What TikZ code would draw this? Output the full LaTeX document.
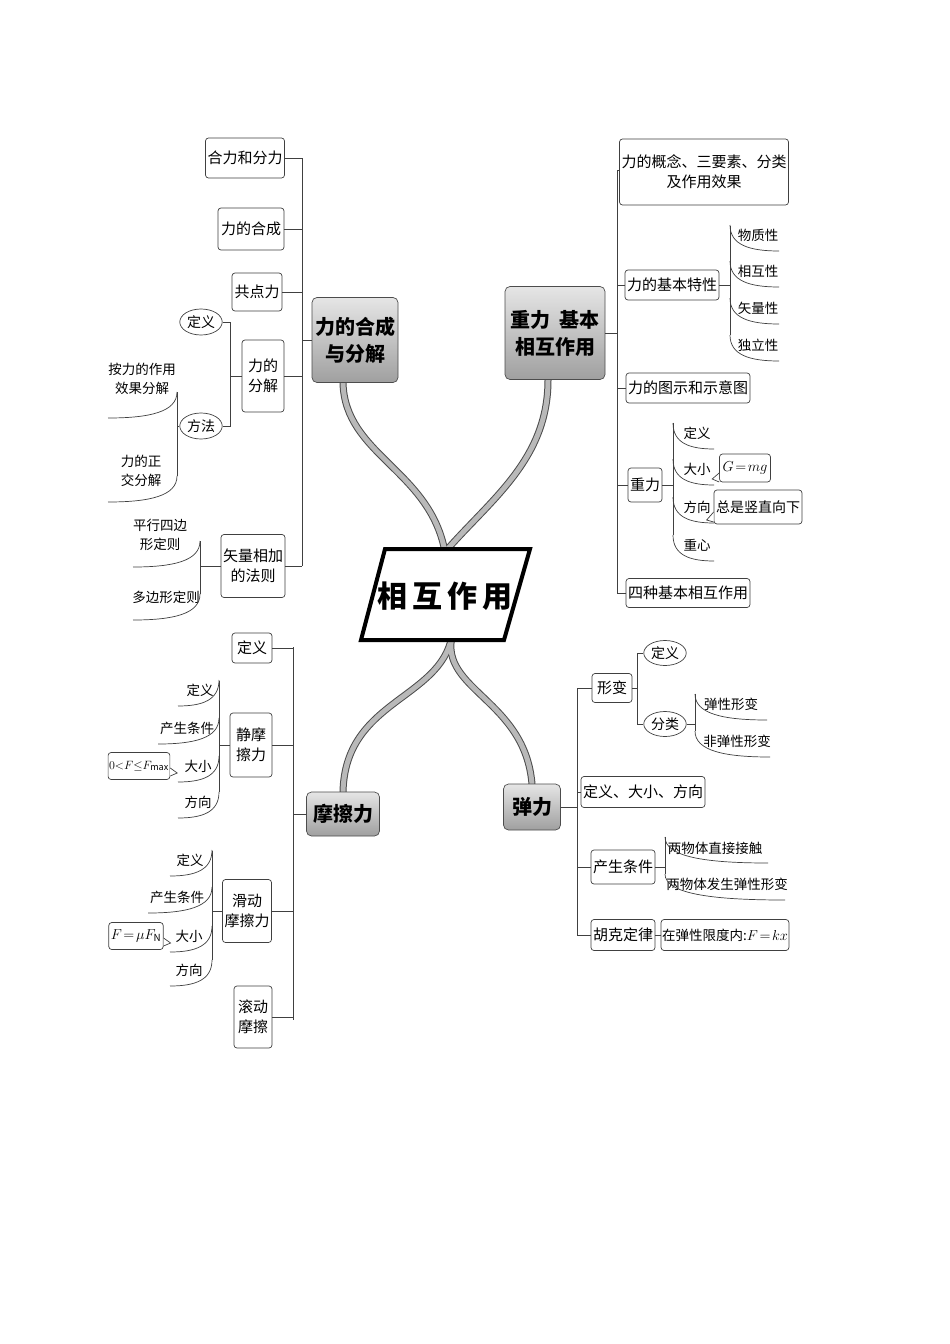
\documentclass[tikz,border=0pt]{standalone}
\usepackage{fontspec}
\setmainfont{Noto Sans CJK SC}
\usetikzlibrary{shapes.geometric}
\begin{document}
\begin{tikzpicture}[x=1pt,y=-1pt,
  ln/.style={draw=black!75,line width=0.7pt},
  box/.style={draw=black!75,line width=0.7pt,rounded corners=3pt,inner sep=2pt,fill=white,align=center,font=\fontsize{15}{20}\selectfont},
  mainn/.style={draw=black!70,line width=0.7pt,rounded corners=5pt,top color=gray!20,bottom color=gray!75,align=center,inner sep=3pt,font=\fontsize{20}{27}\selectfont\bfseries},
  ell/.style={ellipse,draw=black!75,line width=0.7pt,inner sep=1pt,minimum width=38pt,minimum height=26pt,font=\fontsize{14}{15}\selectfont},
  lab/.style={inner sep=0pt,align=center,font=\fontsize{13.5}{19}\selectfont},
  br/.style={line width=5pt,draw=gray!55,line cap=round},
  bro/.style={line width=7pt,draw=black!70,line cap=round}]
\useasboundingbox (0,0) rectangle (950,1344);
\fill[white] (0,0) rectangle (950,1344);
\newcommand{\ulL}[3]{\draw[ln] (#1,#2) .. controls ({#1+0.6*(#3-#1)},#2) and (#3,{#2-6}) .. (#3,{#2-26});}
\newcommand{\ulR}[3]{\draw[ln] (#1,{#2-26}) .. controls (#1,{#2-6}) and ({#1+0.4*(#3-#1)},#2) .. (#3,#2);}
% ---------- branches ----------
\coordinate (ct) at (445,552); \coordinate (cb) at (452,636);
\coordinate (b1) at (343,383); \coordinate (b2) at (548,380);
\coordinate (b3) at (343,792); \coordinate (b4) at (532,784);
\foreach \s in {bro,br}{
 \draw[\s] (ct) .. controls (430,470) and (345,455) .. (b1);
 \draw[\s] (ct) .. controls (490,500) and (548,460) .. (b2);
 \draw[\s] (cb) .. controls (440,700) and (345,700) .. (b3);
 \draw[\s] (cb) .. controls (440,690) and (525,700) .. (b4);
}
% ---------- centre ----------
\draw[line width=4pt,fill=white] (385,549) -- (530,549) -- (504,640) -- (361,640) -- cycle;
\node[font=\fontsize{30}{34}\selectfont\bfseries] (c) at (445,596) {相\,互\,作\,用};
% ---------- main nodes ----------
\node[mainn,minimum width=84pt,minimum height=85pt] (m1) at (355,340) {力的合成\\与分解};
\node[mainn,minimum width=100pt,minimum height=93pt] (m2) at (555,333) {重力\ \ 基本\\相互作用};
\node[mainn,minimum width=73pt,minimum height=44pt] (m3) at (343,814) {摩擦力};
\node[mainn,minimum width=57pt,minimum height=46pt] (m4) at (532,807) {弹力};
% ================= top-left =================
\coordinate (t1a) at (302,158); \coordinate (t1b) at (302,566);
\draw[ln] (t1a) -- (t1b); \draw[ln] (m1.west) -- (m1.west -| t1a);
\node[box,minimum width=77pt,minimum height=40pt] (a1) at (245,158) {合力和分力};
\node[box,minimum width=66pt,minimum height=42pt] (a2) at (251,229) {力的合成};
\node[box,minimum width=50pt,minimum height=38pt] (a3) at (257,292) {共点力};
\node[box,minimum width=42pt,minimum height=72pt] (a4) at (263,376) {力的\\分解};
\node[box,minimum width=62pt,minimum height=63pt] (a5) at (253,566) {矢量相加\\的法则};
\foreach \n in {a1,a2,a3,a4,a5}{\draw[ln] (\n.east) -- (\n.east -| t1a);}
% 力的分解
\node[ell] (e1) at (201,322) {定义};
\node[ell] (e2) at (201,426) {方法};
\coordinate (k1) at (230,322); \coordinate (k2) at (230,426);
\draw[ln] (e1.east) -- (k1) -- (k2) -- (e2.east);
\draw[ln] (a4.west) -- (a4.west -| k1);
% 方法
\node[lab] at (142,379) {按力的作用\\效果分解};
\node[lab] at (141,471) {力的正\\交分解};
\ulL{108}{418}{177} \ulL{108}{502}{177}
\draw[ln] (177,392) -- (177,476);
\draw[ln] (e2.west) -- (177,426);
% 矢量相加
\node[lab] at (160,535) {平行四边\\形定则};
\node[lab] at (166,597) {多边形定则};
\ulL{133}{567}{200} \ulL{133}{620}{200}
\draw[ln] (200,541) -- (200,594);
\draw[ln] (a5.west) -- (200,566);
% ================= top-right =================
\coordinate (t2a) at (617,170); \coordinate (t2b) at (617,593);
\draw[ln] (t2a) -- (t2b); \draw[ln] (m2.east) -- (m2.east -| t2a);
\node[box,minimum width=153pt,minimum height=66pt] (r1) at (704,172) {力的概念、三要素、分类\\及作用效果};
\node[box,minimum width=89pt,minimum height=30pt] (r2) at (672,285) {力的基本特性};
\node[box,minimum width=119pt,minimum height=30pt] (r3) at (688,388) {力的图示和示意图};
\node[box,minimum width=33pt,minimum height=34pt] (r4) at (645,485) {重力};
\node[box,minimum width=119pt,minimum height=29pt] (r5) at (688,593) {四种基本相互作用};
\foreach \n in {r2,r3,r4,r5}{\draw[ln] (\n.west) -- (\n.west -| t2a);}
\draw[ln] (r1.west |- t2a) -- (t2a);
% 特性
\foreach \t/\y in {物质性/235,相互性/271,矢量性/308,独立性/345}{
  \node[lab] at (758,\y) {\t}; \ulR{730}{\y+16}{779}}
\draw[ln] (730,226) -- (730,335);
\draw[ln] (r2.east) -- (730,285);
% 重力
\foreach \t/\y in {定义/433,大小/469,方向/507,重心/545}{
  \node[lab] at (697,\y) {\t}; \ulR{673}{\y+16}{714}}
\draw[ln] (673,423) -- (673,535);
\draw[ln] (r4.east) -- (673,485);
\node[box,minimum width=51pt,minimum height=28pt,font=\fontsize{14}{15}\selectfont] (g1) at (745,468) {$G\!=\!mg$};
\node[box,minimum width=76pt,minimum height=34pt,font=\fontsize{14}{15}\selectfont] (g2) at (758,507) {总是竖直向下};
\draw[ln,fill=white] ([yshift=-5]g1.west) -- ++(-7,6) -- ++(7,3);
\draw[ln,fill=white] ([yshift=-5]g2.west) -- ++(-7,8) -- ++(7,2);
% ================= bottom-left =================
\coordinate (t3a) at (293,647); \coordinate (t3b) at (293,1020);
\draw[ln] (t3a) -- (t3b); \draw[ln] (m3.west) -- (m3.west -| t3a);
\node[box,minimum width=40pt,minimum height=30pt] (f1) at (252,648) {定义};
\node[box,minimum width=42pt,minimum height=64pt] (f2) at (251,745) {静摩\\擦力};
\node[box,minimum width=49pt,minimum height=63pt] (f3) at (247,911) {滑动\\摩擦力};
\node[box,minimum width=38pt,minimum height=62pt] (f4) at (253,1017) {滚动\\摩擦};
\foreach \n in {f1,f2,f3,f4}{\draw[ln] (\n.east) -- (\n.east -| t3a);}
% 静摩擦力
\foreach \t/\x/\y/\l in {定义/200/690/178,产生条件/187/728/158,大小/198/766/178,方向/198/802/178}{
  \node[lab] at (\x,\y) {\t}; \ulL{\l}{\y+16}{219}}
\draw[ln] (219,681) -- (219,792);
\draw[ln] (f2.west) -- (219,745);
\node[box,minimum width=55pt,minimum height=27pt,inner sep=1pt,font=\fontsize{13}{14}\selectfont] (q1) at (139,766) {$0{<}F{\leq}F_{\max}$};
\draw[ln,fill=white] ([yshift=-2]q1.east) -- ++(7,5) -- ++(-7,3);
% 滑动摩擦力
\foreach \t/\x/\y/\l in {定义/190/860/170,产生条件/177/897/148,大小/189/936/170,方向/189/970/170}{
  \node[lab] at (\x,\y) {\t}; \ulL{\l}{\y+16}{212}}
\draw[ln] (212,851) -- (212,960);
\draw[ln] (f3.west) -- (212,911);
\node[box,minimum width=53pt,minimum height=27pt,font=\fontsize{14}{15}\selectfont] (q2) at (136,936) {$F\!=\!\mu F_{\mathrm N}$};
\draw[ln,fill=white] ([yshift=-2]q2.east) -- ++(7,5) -- ++(-7,3);
% ================= bottom-right =================
\coordinate (t4a) at (577,688); \coordinate (t4b) at (577,935);
\draw[ln] (t4a) -- (t4b); \draw[ln] (m4.east) -- (m4.east -| t4a);
\node[box,minimum width=40pt,minimum height=29pt] (d1) at (612,688) {形变};
\node[box,minimum width=102pt,minimum height=31pt] (d2) at (643,792) {定义、大小、方向};
\node[box,minimum width=63pt,minimum height=34pt] (d3) at (623,867) {产生条件};
\node[box,minimum width=63pt,minimum height=31pt] (d4) at (623,935) {胡克定律};
\foreach \n in {d1,d2,d3,d4}{\draw[ln] (\n.west) -- (\n.west -| t4a);}
% 形变
\node[ell,minimum width=34pt,minimum height=25pt] (e3) at (665,653) {定义};
\node[ell,minimum width=34pt,minimum height=25pt] (e4) at (665,724) {分类};
\draw[ln] (e3.west) -- (637,653) -- (637,724) -- (e4.west);
\draw[ln] (d1.east) -- (637,688);
\node[lab] at (731,704) {弹性形变}; \ulR{695}{720}{767}
\node[lab] at (737,741) {非弹性形变}; \ulR{695}{757}{770}
\draw[ln] (695,694) -- (695,731);
\draw[ln] (e4.east) -- (695,724);
% 产生条件
\node[lab] at (715,848) {两物体直接接触}; \ulR{665}{863}{768}
\node[lab] at (727,884) {两物体发生弹性形变}; \ulR{665}{900}{785}
\draw[ln] (665,837) -- (665,874);
\draw[ln] (d3.east) -- (665,867);
% 胡克定律
\node[box,minimum width=109pt,minimum height=31pt,inner sep=1pt,font=\fontsize{13.5}{15}\selectfont] (h1) at (725,935) {在弹性限度内:$F\!=\!kx$};
\draw[ln] (d4.east) -- (h1.west);
\end{tikzpicture}
\end{document}
